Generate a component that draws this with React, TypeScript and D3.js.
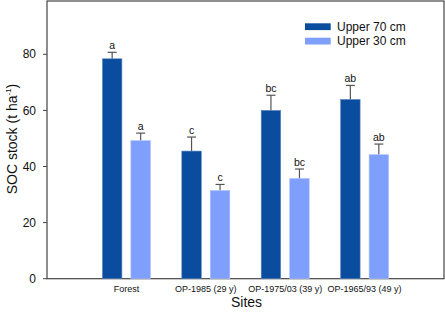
import { useEffect, useRef } from 'react'
import * as d3 from 'd3'

const sites = ['Forest', 'OP-1985 (29 y)', 'OP-1975/03 (39 y)', 'OP-1965/93 (49 y)']
const upper70 = [78.4, 45.5, 60.0, 63.9]
const upper70Err = [2.3, 5.0, 5.4, 5.0]
const upper70Letters = ['a', 'c', 'bc', 'ab']
const upper30 = [49.2, 31.4, 35.7, 44.2]
const upper30Err = [2.7, 2.2, 3.4, 3.8]
const upper30Letters = ['a', 'c', 'bc', 'ab']
const yTicks = [0, 20, 40, 60, 80]

export default function App() {
  const svgRef = useRef<SVGSVGElement>(null)

  useEffect(() => {
    const width = 445, height = 315
    const left = 47, right = 444, top = 1, bottom = 278.7
    const svg = d3.select(svgRef.current)
    svg.selectAll('*').remove()
    svg.attr('width', width).attr('height', height)
      .style('font-family', 'Arial, "Liberation Sans", sans-serif')

    const x = d3.scaleLinear().domain([0, sites.length + 1]).range([left, right])
    const y = d3.scaleLinear().domain([0, 99]).range([bottom, top])

    const barW = 19.5, gap = 9
    const series = [
      { vals: upper70, err: upper70Err, letters: upper70Letters, color: '#0a4c9e', edge: '#5f86c4', off: -(gap / 2 + barW) },
      { vals: upper30, err: upper30Err, letters: upper30Letters, color: '#7f9ffd', edge: '#a9bffd', off: gap / 2 },
    ]

    // frame
    svg.append('rect')
      .attr('x', left).attr('y', top)
      .attr('width', right - left).attr('height', bottom - top)
      .attr('fill', 'none').attr('stroke', '#444').attr('stroke-width', 1.2)

    series.forEach(s => {
      s.vals.forEach((v, i) => {
        const bx = x(i + 1) + s.off
        const cx = bx + barW / 2
        // error bar
        svg.append('line')
          .attr('x1', cx).attr('x2', cx)
          .attr('y1', y(v)).attr('y2', y(v + s.err[i]))
          .attr('stroke', '#555').attr('stroke-width', 1.2)
        svg.append('line')
          .attr('x1', cx - 4.5).attr('x2', cx + 4.5)
          .attr('y1', y(v + s.err[i])).attr('y2', y(v + s.err[i]))
          .attr('stroke', '#555').attr('stroke-width', 1.2)
        svg.append('rect')
          .attr('x', bx).attr('y', y(v))
          .attr('width', barW).attr('height', bottom - y(v))
          .attr('fill', s.color).attr('stroke', s.edge).attr('stroke-width', 0.6)
        svg.append('text')
          .attr('x', cx).attr('y', y(v + s.err[i]) - 3)
          .attr('text-anchor', 'middle').attr('font-size', 10.5).attr('fill', '#111')
          .text(s.letters[i])
      })
    })

    // y axis ticks
    yTicks.forEach(t => {
      svg.append('line')
        .attr('x1', left - 4).attr('x2', left)
        .attr('y1', y(t)).attr('y2', y(t))
        .attr('stroke', '#444')
      svg.append('text')
        .attr('x', left - 11).attr('y', y(t)).attr('dy', '0.35em')
        .attr('text-anchor', 'end').attr('font-size', 12).attr('fill', '#111')
        .text(t)
    })

    // x labels
    sites.forEach((s, i) => {
      svg.append('text')
        .attr('x', x(i + 1)).attr('y', 292)
        .attr('text-anchor', 'middle').attr('font-size', 9).attr('fill', '#111')
        .text(s)
    })

    svg.append('text')
      .attr('x', 246.5).attr('y', 307)
      .attr('text-anchor', 'middle').attr('font-size', 14).attr('fill', '#111')
      .text('Sites')

    const yl = svg.append('text')
      .attr('transform', 'translate(17,139) rotate(-90)')
      .attr('text-anchor', 'middle').attr('font-size', 14).attr('fill', '#111')
    yl.append('tspan').text('SOC stock (t ha')
    yl.append('tspan').attr('font-size', 8).attr('dy', -6).text('-1')
    yl.append('tspan').attr('dy', 6).text(')')

    // legend
    const legend = [
      { label: 'Upper 70 cm', color: '#0a4c9e' },
      { label: 'Upper 30 cm', color: '#7f9ffd' },
    ]
    legend.forEach((l, i) => {
      svg.append('rect')
        .attr('x', 305).attr('y', 23.3 + i * 14.4)
        .attr('width', 25.7).attr('height', 6.8)
        .attr('fill', l.color)
      svg.append('text')
        .attr('x', 337).attr('y', 26.7 + i * 14.4).attr('dy', '0.35em')
        .attr('font-size', 12).attr('fill', '#111')
        .text(l.label)
    })
  }, [])

  return (
    <div style={{ position: 'absolute', left: 0, top: 0 }}>
      <svg ref={svgRef} />
    </div>
  )
}
